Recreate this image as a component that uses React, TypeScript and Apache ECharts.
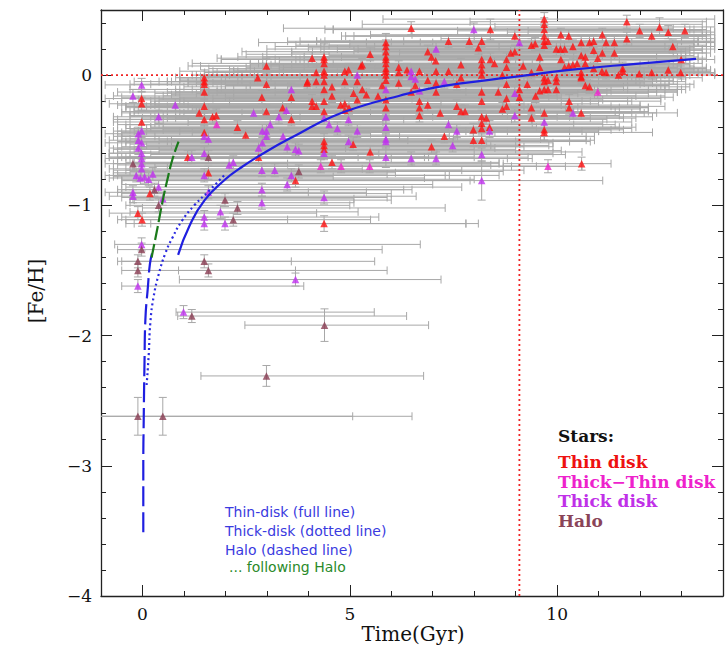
import React, { useEffect, useRef } from 'react';
import * as echarts from 'echarts';

// [age (Gyr), [Fe/H], age lower, age upper, [Fe/H] error]
type Star = [number, number, number, number, number];

const thinDisk: Star[] = [
  [-0.02, -0.18, -0.9, 6.5, 0.05], [-0.02, -0.22, -0.8, 7.2, 0.05], [-0.02, -0.36, -0.7, 5.8, 0.05],
  [-0.11, -1.06, -0.8, 4.2, 0.05], [-0.01, -1.11, -0.6, 3.5, 0.05], [0.18, -0.91, -0.5, 6.0, 0.05],
  [1.49, -0.02, 0.9, 7.5, 0.06], [1.49, -0.05, 0.6, 8.1, 0.05], [1.49, -0.07, -0.3, 6.9, 0.05],
  [1.49, -0.13, -0.6, 7.8, 0.05], [1.49, -0.24, -0.4, 9.2, 0.05], [1.49, -0.34, -0.7, 6.3, 0.05],
  [1.49, -0.44, -0.5, 8.5, 0.05], [1.37, -0.29, -0.2, 5.5, 0.05], [1.69, -0.32, 0.3, 7.0, 0.05],
  [1.78, -0.31, -0.3, 8.8, 0.05], [2.29, -0.4, 0.5, 9.5, 0.05], [2.49, -0.46, -0.6, 7.4, 0.05],
  [1.09, -0.63, -0.8, 5.2, 0.05], [1.59, -0.75, -0.7, 6.1, 0.05],
  [2.99, 0.07, 1.1, 8.2, 0.06], [2.78, -0.02, 0.8, 9.0, 0.05], [2.99, -0.07, 0.2, 8.6, 0.05],
  [2.88, -0.17, -0.5, 10.1, 0.05], [2.99, -0.28, -0.3, 9.4, 0.05], [3.38, -0.25, 0.4, 10.5, 0.05],
  [3.59, -0.17, 0.9, 9.8, 0.05], [3.59, -0.34, -0.6, 8.9, 0.05], [3.97, -0.06, 1.3, 10.8, 0.05],
  [2.8, -0.63, -0.8, 8.0, 0.05], [3.69, -0.81, -0.5, 7.9, 0.05],
  [4.09, 0.13, 1.8, 9.6, 0.05], [4.19, 0.02, 1.5, 10.2, 0.05], [3.98, -0.05, 0.7, 11.0, 0.05],
  [4.19, -0.05, -0.2, 9.9, 0.05], [4.09, -0.2, 0.2, 10.6, 0.05], [4.09, -0.24, -0.4, 8.7, 0.05],
  [4.19, -0.24, 0.6, 11.3, 0.05],
  [4.38, 0.14, 2.3, 10.4, 0.1], [4.38, 0.12, 1.9, 11.5, 0.06], [4.38, 0.09, 1.2, 9.4, 0.05],
  [4.38, 0.03, 0.9, 10.9, 0.05], [4.38, 0.0, 1.6, 12.1, 0.05], [4.38, -0.05, 0.4, 9.2, 0.05],
  [4.38, -0.11, -0.3, 10.7, 0.05], [4.38, -0.2, 0.3, 11.8, 0.05], [4.38, -0.28, -0.5, 9.7, 0.05],
  [4.38, -0.51, -0.6, 10.3, 0.06], [4.38, -0.54, 0.1, 8.4, 0.05], [4.38, -0.57, -0.7, 9.0, 0.05],
  [4.38, -1.14, -0.2, 7.8, 0.06], [4.57, -0.09, 1.0, 11.6, 0.05], [4.57, -0.16, 0.5, 10.0, 0.05],
  [4.57, -0.67, -0.4, 8.6, 0.05],
  [4.88, 0.03, 1.7, 11.2, 0.05], [4.97, 0.04, 2.1, 10.3, 0.05], [5.3, 0.08, 2.6, 12.0, 0.05],
  [5.49, 0.16, 2.5, 11.4, 0.05], [5.27, 0.07, 1.4, 10.8, 0.05], [5.18, -0.05, 1.1, 11.7, 0.05],
  [4.88, -0.05, 0.6, 9.8, 0.05], [5.09, -0.14, 0.3, 10.5, 0.05], [5.3, -0.11, 1.2, 12.2, 0.05],
  [5.18, -0.19, -0.1, 9.5, 0.05], [4.78, -0.23, 0.2, 10.1, 0.05], [4.88, -0.22, -0.5, 11.0, 0.05],
  [4.98, -0.25, 0.8, 9.3, 0.05], [4.88, -0.27, -0.2, 10.4, 0.05], [5.68, -0.16, 1.5, 11.9, 0.05],
  [5.78, -0.08, 2.0, 12.5, 0.05], [5.4, -0.15, 0.7, 10.9, 0.05], [5.08, -0.53, -0.3, 9.1, 0.05],
  [5.49, -0.59, -0.6, 10.6, 0.05],
  [5.87, 0.25, 2.8, 11.8, 0.07], [5.87, 0.22, 3.2, 12.6, 0.05], [5.87, 0.18, 2.4, 10.9, 0.05],
  [5.87, 0.14, 3.0, 12.9, 0.05], [5.87, 0.12, 1.9, 11.3, 0.05], [5.87, 0.09, 2.6, 12.2, 0.05],
  [5.87, 0.05, 1.6, 10.7, 0.05], [5.87, 0.03, 2.2, 11.9, 0.05], [5.87, 0.0, 1.3, 12.4, 0.05],
  [5.87, -0.04, 0.9, 10.6, 0.05], [5.87, -0.19, 0.4, 11.1, 0.05], [5.87, -0.25, -0.4, 10.2, 0.05],
  [6.48, 0.36, 3.4, 12.8, 0.05], [6.18, 0.06, 2.5, 12.0, 0.05], [6.18, 0.02, 1.8, 11.4, 0.05],
  [6.38, 0.04, 3.0, 12.7, 0.05], [6.68, 0.03, 2.7, 11.6, 0.05], [6.18, -0.06, 1.1, 12.3, 0.05],
  [6.48, -0.13, 0.6, 11.2, 0.05], [6.58, -0.08, 2.0, 12.6, 0.05], [6.88, -0.04, 1.5, 11.9, 0.05],
  [6.88, 0.18, 3.6, 13.1, 0.05], [6.97, 0.14, 2.9, 12.4, 0.05], [7.07, 0.11, 3.3, 13.0, 0.05],
  [7.08, 0.03, 2.3, 11.7, 0.05], [7.08, -0.06, 1.7, 12.1, 0.05], [7.08, -0.13, 0.8, 11.0, 0.05],
  [6.88, -0.23, 0.3, 12.0, 0.05], [6.68, -0.2, 1.0, 10.8, 0.05], [6.68, -0.25, -0.2, 11.5, 0.05],
  [6.68, -0.31, 0.5, 10.4, 0.05], [7.18, -0.29, 0.9, 11.8, 0.05], [7.28, -0.47, -0.5, 10.9, 0.05],
  [6.97, -0.55, -0.1, 9.9, 0.05],
  [7.38, 0.03, 2.6, 12.9, 0.05], [7.68, 0.08, 3.1, 13.2, 0.05], [7.68, -0.02, 2.0, 12.5, 0.05],
  [7.58, -0.07, 1.4, 12.0, 0.05], [7.38, 0.26, 3.8, 13.4, 0.05], [7.88, 0.26, 3.5, 13.0, 0.05],
  [8.1, 0.21, 4.0, 13.3, 0.05], [8.39, 0.35, 4.6, 13.6, 0.08], [8.39, 0.12, 3.2, 13.1, 0.05],
  [8.49, 0.09, 2.8, 12.8, 0.05], [8.78, 0.12, 3.9, 13.5, 0.05], [8.78, 0.06, 3.4, 12.9, 0.05],
  [8.68, 0.0, 2.4, 13.2, 0.05], [8.58, -0.13, 1.6, 12.4, 0.05], [8.68, -0.26, 1.2, 12.0, 0.05],
  [8.29, -0.33, 0.6, 11.6, 0.05], [8.37, -0.4, 0.2, 11.9, 0.05], [7.98, -0.42, -0.3, 11.3, 0.05],
  [7.98, -0.5, 0.4, 10.7, 0.05], [7.68, -0.28, 0.8, 12.2, 0.05], [7.78, -0.28, 1.3, 11.4, 0.05],
  [7.58, -0.24, 0.1, 12.6, 0.05],
  [8.18, 0.26, 4.2, 13.4, 0.05], [8.18, 0.12, 3.7, 13.0, 0.05], [8.18, 0.08, 2.9, 12.7, 0.05],
  [8.18, 0.04, 3.3, 13.3, 0.05], [8.18, 0.0, 2.1, 12.6, 0.05], [8.18, -0.13, 1.8, 12.9, 0.05],
  [8.18, -0.2, 0.9, 11.7, 0.05], [8.18, -0.32, 1.5, 12.3, 0.05], [8.18, -0.37, 0.3, 11.1, 0.05],
  [8.18, -0.41, -0.4, 11.8, 0.05], [8.18, -0.5, 0.7, 10.9, 0.05],
  [8.98, 0.3, 4.8, 13.5, 0.05], [8.98, 0.18, 4.1, 13.2, 0.05], [8.88, 0.17, 3.6, 12.8, 0.05],
  [9.38, 0.23, 4.5, 13.6, 0.05], [9.47, 0.24, 5.0, 13.3, 0.05], [9.78, 0.26, 4.4, 13.7, 0.05],
  [9.58, 0.14, 3.9, 13.1, 0.05], [9.98, 0.2, 4.7, 13.5, 0.05], [10.08, 0.2, 5.2, 13.8, 0.05],
  [10.18, 0.2, 4.3, 13.2, 0.05], [10.09, 0.12, 3.8, 13.4, 0.05], [10.09, 0.31, 5.5, 13.7, 0.05],
  [10.28, 0.3, 4.9, 13.6, 0.05],
  [9.69, 0.43, 5.8, 13.8, 0.05], [9.69, 0.39, 5.3, 13.5, 0.05], [9.69, 0.35, 4.6, 13.2, 0.05],
  [9.69, 0.3, 5.1, 13.7, 0.05], [9.69, 0.26, 4.2, 13.3, 0.05], [9.69, 0.23, 3.7, 12.9, 0.05],
  [9.69, -0.02, 2.8, 13.0, 0.05], [9.69, -0.05, 2.3, 12.7, 0.05], [9.69, -0.11, 1.9, 12.4, 0.05],
  [9.69, -0.29, 1.0, 12.1, 0.05], [9.69, -0.42, 0.5, 11.6, 0.08], [9.69, -0.44, 1.2, 12.3, 0.06],
  [8.78, -0.07, 2.6, 12.9, 0.05], [8.78, -0.18, 1.7, 12.5, 0.05], [8.78, -0.24, 1.1, 12.0, 0.05],
  [9.09, -0.17, 2.0, 12.8, 0.05], [9.09, -0.11, 2.5, 13.1, 0.05], [9.28, -0.07, 3.0, 13.3, 0.05],
  [9.48, -0.16, 2.2, 12.6, 0.05], [9.58, -0.12, 1.4, 12.9, 0.05], [9.38, -0.25, 1.6, 12.2, 0.05],
  [9.38, -0.33, 0.8, 11.9, 0.05], [9.38, 0.02, 3.4, 13.4, 0.05], [9.58, 0.06, 3.9, 13.6, 0.05],
  [9.18, 0.07, 2.9, 13.0, 0.05], [9.98, -0.02, 3.1, 13.5, 0.05], [9.98, -0.05, 2.4, 13.1, 0.05],
  [9.78, -0.04, 2.7, 12.8, 0.05], [9.78, -0.11, 1.8, 12.6, 0.05], [9.98, -0.11, 2.2, 13.0, 0.05],
  [10.38, 0.22, 5.6, 13.8, 0.05], [10.58, 0.25, 6.0, 13.7, 0.05], [10.78, 0.25, 5.4, 13.6, 0.05],
  [10.88, 0.26, 6.3, 13.8, 0.05], [11.18, 0.25, 6.7, 13.7, 0.05], [11.38, 0.25, 7.0, 13.8, 0.05],
  [11.09, 0.31, 6.5, 13.8, 0.05], [10.88, 0.19, 5.1, 13.5, 0.05], [11.09, 0.17, 5.8, 13.7, 0.05],
  [11.38, 0.17, 6.2, 13.6, 0.05], [10.68, 0.14, 4.8, 13.4, 0.05], [10.98, 0.13, 5.5, 13.6, 0.05],
  [10.58, 0.15, 4.5, 13.3, 0.05], [10.48, 0.09, 4.0, 13.2, 0.05], [10.68, 0.09, 4.6, 13.5, 0.05],
  [10.38, 0.08, 3.6, 13.0, 0.05], [10.28, 0.07, 4.2, 13.3, 0.05], [10.18, 0.06, 3.3, 12.9, 0.05],
  [10.58, -0.01, 3.8, 13.1, 0.05], [10.58, -0.02, 3.0, 12.8, 0.05], [10.78, -0.09, 3.5, 13.2, 0.05],
  [10.68, -0.08, 2.6, 12.7, 0.05], [10.29, -0.2, 2.1, 12.5, 0.05], [10.29, -0.25, 1.5, 12.2, 0.05],
  [10.58, -0.29, 2.9, 12.9, 0.05], [10.58, 0.02, 4.4, 13.4, 0.05], [10.88, 0.05, 4.9, 13.6, 0.05],
  [11.08, 0.03, 5.3, 13.7, 0.05], [11.18, 0.02, 4.7, 13.5, 0.05], [11.48, 0.0, 5.9, 13.8, 0.05],
  [11.58, 0.03, 6.4, 13.7, 0.05], [11.58, 0.05, 5.6, 13.6, 0.05], [11.98, 0.01, 6.8, 13.8, 0.05],
  [12.28, 0.02, 7.3, 13.8, 0.05], [12.68, 0.04, 7.8, 13.7, 0.05], [12.98, 0.02, 8.2, 13.8, 0.05],
  [11.68, 0.41, 7.9, 13.6, 0.05], [12.47, 0.37, 8.5, 13.8, 0.07], [13.08, 0.34, 9.3, 13.7, 0.05],
  [11.99, 0.34, 7.6, 13.5, 0.05], [12.68, 0.33, 8.8, 13.8, 0.05], [12.28, 0.3, 8.0, 13.6, 0.05],
  [11.68, 0.28, 7.2, 13.8, 0.05], [12.79, 0.22, 8.6, 13.7, 0.05], [12.99, 0.12, 9.0, 13.8, 0.08],
  [10.59, -0.68, 8.7, 11.3, 0.05],
];

const thickThinDisk: Star[] = [
  [4.3, -0.7, -0.2, 8.9, 0.05], [4.79, -0.7, 0.3, 9.5, 0.05], [5.48, -0.7, 0.6, 10.2, 0.05],
  [9.78, -0.7, 8.7, 10.6, 0.05], [1.79, -0.38, -0.4, 8.2, 0.05], [10.98, -0.13, 3.2, 12.9, 0.05],
];

const thickDisk: Star[] = [
  [-0.02, -0.075, -0.9, 3.2, 0.05], [-0.23, -0.16, -0.7, 2.2, 0.05], [-0.1, -0.45, -0.9, 5.5, 0.05],
  [-0.02, -0.43, -0.7, 7.8, 0.05], [-0.1, -0.5, -0.8, 6.4, 0.05], [-0.02, -0.52, -0.9, 8.3, 0.05],
  [-0.1, -0.56, -0.6, 4.9, 0.05], [-0.02, -0.6, -0.8, 7.1, 0.05], [-0.02, -0.64, -0.9, 6.0, 0.05],
  [-0.02, -0.68, -0.7, 8.6, 0.05], [-0.02, -0.72, -0.8, 5.3, 0.05], [-0.15, -0.77, -0.9, 7.4, 0.05],
  [-0.05, -0.79, -0.8, 6.8, 0.05], [0.05, -0.78, -0.7, 4.6, 0.05], [0.15, -0.8, -0.5, 8.0, 0.05],
  [0.25, -0.76, -0.6, 5.9, 0.05], [-0.23, -0.9, -0.9, 4.0, 0.05], [-0.23, -0.93, -0.8, 6.6, 0.05],
  [0.39, -0.86, -0.4, 7.7, 0.05], [0.49, -0.95, -0.3, 5.1, 0.05],
  [1.49, -0.47, -0.5, 6.2, 0.05], [1.59, -0.49, -0.3, 7.5, 0.05], [1.49, -0.6, -0.8, 5.7, 0.05],
  [0.79, -0.23, -0.6, 4.5, 0.05], [0.39, -0.32, -0.7, 3.8, 0.05], [1.19, -0.63, -0.6, 6.9, 0.05],
  [1.49, -0.77, -0.7, 7.3, 0.05], [1.59, -0.9, -0.6, 5.4, 0.05], [1.88, -1.05, -0.3, 5.2, 0.05],
  [1.99, -1.14, 0.2, 7.8, 0.05], [1.49, -1.09, -0.5, 5.7, 0.05], [1.49, -1.14, -0.4, 8.1, 0.05],
  [2.09, -0.69, -0.6, 8.4, 0.05], [2.19, -0.67, -0.2, 6.5, 0.05], [2.68, -0.29, -0.5, 9.1, 0.05],
  [3.29, -0.32, 0.2, 10.0, 0.05], [3.47, -0.27, -0.1, 9.6, 0.05], [2.89, -0.43, -0.6, 8.8, 0.05],
  [2.99, -0.43, 0.1, 10.3, 0.05], [3.08, -0.38, -0.3, 9.4, 0.05], [2.99, -0.47, -0.7, 7.6, 0.05],
  [2.89, -0.52, -0.4, 9.9, 0.05], [2.8, -0.56, -0.8, 8.5, 0.05], [3.39, -0.47, 0.3, 10.7, 0.05],
  [3.49, -0.55, -0.5, 9.2, 0.05], [3.69, -0.57, -0.2, 8.0, 0.05], [3.77, -0.58, 0.4, 10.1, 0.05],
  [3.59, -0.11, 0.8, 10.9, 0.05], [2.88, -0.73, -0.7, 9.2, 0.05], [3.19, -0.73, -0.4, 7.7, 0.05],
  [3.59, -0.77, -0.6, 8.6, 0.05], [3.49, -0.84, -0.5, 7.0, 0.05], [2.88, -0.88, -0.6, 6.5, 0.05],
  [2.88, -0.98, -0.3, 5.1, 0.05], [4.38, -0.94, -0.5, 5.9, 0.05], [4.38, -0.33, 0.0, 10.8, 0.05],
  [4.38, -0.6, -0.3, 9.9, 0.05], [4.97, -0.34, 0.5, 11.2, 0.05], [4.5, -0.38, -0.6, 10.4, 0.05],
  [4.7, -0.41, 0.1, 9.7, 0.05], [5.18, -0.43, -0.2, 11.0, 0.05], [4.97, -0.51, -0.4, 9.0, 0.05],
  [5.18, 0.0, 1.2, 11.4, 0.05], [5.87, -0.11, 0.9, 11.7, 0.05], [5.87, -0.32, -0.3, 10.3, 0.05],
  [5.87, -0.4, 0.2, 11.5, 0.05], [5.87, -0.49, -0.5, 9.6, 0.05], [5.87, -0.51, 0.6, 10.8, 0.05],
  [5.87, -0.63, -0.4, 9.3, 0.08], [6.48, 0.03, 2.2, 12.1, 0.05], [6.48, -0.01, 1.4, 11.8, 0.05],
  [6.58, -0.03, 0.9, 12.4, 0.05], [6.68, -0.12, 1.6, 11.3, 0.05], [7.08, 0.2, 3.0, 12.7, 0.05],
  [7.28, -0.05, 1.9, 12.3, 0.05], [7.38, -0.38, 0.4, 11.4, 0.05], [7.58, -0.43, -0.1, 10.6, 0.05],
  [7.48, -0.54, 0.7, 9.8, 0.05], [7.08, -0.64, -0.6, 9.4, 0.05], [6.48, -0.64, -0.3, 8.8, 0.05],
  [8.18, -0.61, 0.2, 10.2, 0.05], [8.18, -0.81, -0.5, 11.1, 0.15], [7.99, 0.35, 4.4, 13.3, 0.05],
  [8.37, -0.43, 0.9, 11.0, 0.05], [9.09, 0.25, 4.3, 13.4, 0.05], [8.98, -0.14, 1.3, 12.2, 0.05],
  [8.98, -0.31, 0.6, 11.5, 0.05], [10.38, -0.29, 2.4, 12.4, 0.05], [9.69, -0.36, 1.1, 11.8, 0.05],
  [0.99, -1.82, 0.81, 5.59, 0.05], [3.69, -1.57, 0.89, 7.2, 0.05], [-0.02, -1.3, -0.67, 6.7, 0.05],
  [-0.11, -1.62, -0.5, 3.89, 0.05],
];

const halo: Star[] = [
  [-0.23, -0.68, -0.9, 3.5, 0.05], [0.29, -0.88, -0.5, 6.3, 0.05], [0.39, -1.0, -0.4, 5.0, 0.05],
  [1.59, -0.63, -0.5, 6.8, 0.05], [1.99, -0.96, -0.2, 6.0, 0.05], [2.29, -1.02, 0.0, 7.3, 0.05],
  [2.19, -1.11, -0.4, 5.5, 0.05], [3.77, -0.74, -0.3, 8.7, 0.05], [-0.02, -1.34, -0.6, 5.78, 0.05],
  [-0.11, -1.43, -0.6, 5.6, 0.05], [-0.11, -1.5, -0.5, 5.9, 0.05], [1.49, -1.43, -0.5, 3.59, 0.05],
  [1.59, -1.5, 0.87, 3.69, 0.05], [1.19, -1.85, 0.85, 6.37, 0.05], [4.39, -1.92, 2.47, 6.9, 0.125],
  [2.99, -2.31, 1.41, 6.78, 0.08], [-0.11, -2.62, -1.2, 5.07, 0.145], [0.49, -2.62, -1.2, 6.5, 0.145],
];

// model curves [age, [Fe/H]]
const thinDiskModel: number[][] = [
  [0.86, -1.38], [1.13, -1.16], [1.5, -0.96], [2.0, -0.8], [2.33, -0.72], [2.97, -0.59],
  [3.77, -0.45], [4.57, -0.32], [5.37, -0.23], [6.18, -0.16], [6.98, -0.1], [7.78, -0.06],
  [8.8, -0.02], [10.3, 0.04], [11.9, 0.087], [13.35, 0.125],
];
const thickDiskModel: number[][] = [
  [0.1, -2.38], [0.15, -2.15], [0.19, -1.9], [0.27, -1.7], [0.4, -1.52], [0.55, -1.37],
  [0.72, -1.25], [0.95, -1.12], [1.25, -1.0], [1.6, -0.89], [1.97, -0.77],
];
const haloModel: number[][] = [
  [0.02, -3.51], [0.02, -3.0], [0.03, -2.65], [0.05, -2.19], [0.07, -1.88], [0.13, -1.63],
  [0.18, -1.45], [0.23, -1.37],
];
const followingHaloModel: number[][] = [
  [0.22, -1.4], [0.37, -1.16], [0.49, -0.96], [0.61, -0.79], [0.72, -0.65], [0.87, -0.51],
];

const xMajorTicks = [0, 5, 10];
const solarFeH = 0;
const sunAge = 9.09;

const SERIF = "'DejaVu Serif', 'Liberation Serif', serif";
const SANS = "'DejaVu Sans', 'Liberation Sans', Arial, sans-serif";

const minus = (v: number) => (v < 0 ? '\u2212' + Math.abs(v) : String(v));

function buildOption(): any {
  const allStars = [...thinDisk, ...thickThinDisk, ...thickDisk, ...halo];
  const tickColor = '#222';
  const baseAxis = {
    type: 'value',
    splitLine: { show: false },
    axisLine: { show: true, onZero: false, lineStyle: { color: tickColor, width: 1.3 } },
  };
  const xAxis = [
    {
      ...baseAxis, min: -1, max: 14, interval: 1, position: 'bottom',
      axisTick: { inside: true, length: 5, lineStyle: { color: tickColor } },
      axisLabel: {
        formatter: (v: number) => (xMajorTicks.includes(Math.round(v)) && Math.abs(v - Math.round(v)) < 1e-6 ? minus(Math.round(v)) : ''),
        margin: 9, fontFamily: SERIF, fontSize: 17, color: '#111',
      },
    },
    {
      ...baseAxis, min: -1, max: 14, position: 'bottom', axisLine: { show: false, onZero: false },
      axisTick: { inside: true, length: 11, customValues: xMajorTicks, lineStyle: { color: tickColor } },
      axisLabel: { show: false },
    },
    {
      ...baseAxis, min: -1, max: 14, interval: 1, position: 'top',
      axisTick: { inside: true, length: 5, lineStyle: { color: tickColor } },
      axisLabel: { show: false },
    },
    {
      ...baseAxis, min: -1, max: 14, position: 'top', axisLine: { show: false, onZero: false },
      axisTick: { inside: true, length: 11, customValues: xMajorTicks, lineStyle: { color: tickColor } },
      axisLabel: { show: false },
    },
  ];
  const yAxis = [
    {
      ...baseAxis, min: -4, max: 0.5, interval: 0.2, position: 'left',
      axisTick: { inside: true, length: 5, lineStyle: { color: tickColor } },
      axisLabel: {
        formatter: (v: number) => (Math.abs(v - Math.round(v)) < 1e-6 ? minus(Math.round(v)) : ''),
        margin: 9, fontFamily: SERIF, fontSize: 17, color: '#111',
      },
    },
    {
      ...baseAxis, min: -4, max: 0.5, interval: 1, position: 'left', axisLine: { show: false, onZero: false },
      axisTick: { inside: true, length: 11, lineStyle: { color: tickColor } },
      axisLabel: { show: false },
    },
    {
      ...baseAxis, min: -4, max: 0.5, interval: 0.2, position: 'right',
      axisTick: { inside: true, length: 5, lineStyle: { color: tickColor } },
      axisLabel: { show: false },
    },
    {
      ...baseAxis, min: -4, max: 0.5, interval: 1, position: 'right', axisLine: { show: false, onZero: false },
      axisTick: { inside: true, length: 11, lineStyle: { color: tickColor } },
      axisLabel: { show: false },
    },
  ];

  const errStyle = { stroke: '#a8a8a8', lineWidth: 1 };
  const errorBars = {
    type: 'custom',
    clip: true,
    z: 1,
    silent: true,
    encode: { x: 0, y: 1 },
    data: allStars,
    renderItem: (_p: any, api: any) => {
      const x = api.value(0), y = api.value(1), lo = api.value(2), hi = api.value(3), e = api.value(4);
      const c = api.coord([x, y]);
      const l = api.coord([lo, y]);
      const h = api.coord([hi, y]);
      const t = api.coord([x, y + e]);
      const b = api.coord([x, y - e]);
      return {
        type: 'group',
        children: [
          { type: 'line', shape: { x1: l[0], y1: c[1], x2: h[0], y2: c[1] }, style: errStyle },
          { type: 'line', shape: { x1: l[0], y1: c[1] - 4, x2: l[0], y2: c[1] + 4 }, style: errStyle },
          { type: 'line', shape: { x1: h[0], y1: c[1] - 4, x2: h[0], y2: c[1] + 4 }, style: errStyle },
          { type: 'line', shape: { x1: c[0], y1: t[1], x2: c[0], y2: b[1] }, style: errStyle },
          { type: 'line', shape: { x1: c[0] - 4, y1: t[1], x2: c[0] + 4, y2: t[1] }, style: errStyle },
          { type: 'line', shape: { x1: c[0] - 4, y1: b[1], x2: c[0] + 4, y2: b[1] }, style: errStyle },
        ],
      };
    },
  };

  const scatter = (name: string, data: Star[], color: string) => ({
    name, type: 'scatter', symbol: 'triangle', symbolSize: 7.5, z: 3,
    data: data.map((s) => [s[0], s[1]]),
    itemStyle: { color },
  });

  const curve = (data: number[][], color: string, type: any, width = 2) => ({
    type: 'line', data, smooth: true, showSymbol: false, symbol: 'none', z: 5,
    lineStyle: { color, width, type },
  });

  const refLine = (data: number[][]) => ({
    type: 'line', data, showSymbol: false, symbol: 'none', z: 2,
    lineStyle: { color: '#f02525', width: 1.8, type: [2, 3] },
  });

  const text = (x: number, y: number, t: string, color: string, font: string, size: number, extra: any = {}) => ({
    type: 'text', x, y, z: 100,
    style: { text: t, fill: color, fontFamily: font, fontSize: size, textVerticalAlign: 'middle', ...extra },
  });

  const legendFont = { fontWeight: 'bold' };

  return {
    animation: false,
    backgroundColor: '#ffffff',
    grid: { left: 101, right: 3, top: 10, bottom: 56, containLabel: false },
    xAxis,
    yAxis,
    series: [
      errorBars,
      refLine([[-1, solarFeH], [14, solarFeH]]),
      refLine([[sunAge, -4], [sunAge, 0.5]]),
      scatter('Thin disk', thinDisk, '#ff1010'),
      scatter('Thick-Thin disk', thickThinDisk, '#f020d0'),
      scatter('Thick disk', thickDisk, '#c030f0'),
      scatter('Halo', halo, '#8a3c52'),
      curve(thinDiskModel, '#1f1fe0', 'solid', 2.2),
      curve(thickDiskModel, '#2a2ae0', [2, 3], 2.2),
      curve(haloModel, '#1f1fe0', [20, 6], 2.2),
      curve(followingHaloModel, '#1a7a1a', [14, 4], 2.2),
    ],
    graphic: [
      text(413, 634, 'Time(Gyr)', '#111', SERIF, 20, { textAlign: 'center' }),
      { ...text(0, 0, '[Fe/H]', '#111', SERIF, 20, { textAlign: 'center' }), x: 36, y: 291, rotation: Math.PI / 2 },
      text(558, 436, 'Stars:', '#111', SERIF, 17, legendFont),
      text(558, 462, 'Thin disk', '#ee1111', SERIF, 17, legendFont),
      text(558, 482, 'Thick\u2212Thin disk', '#ee22cc', SERIF, 17, legendFont),
      text(558, 501, 'Thick disk', '#c030e8', SERIF, 17, legendFont),
      text(558, 521, 'Halo', '#8a4458', SERIF, 17, legendFont),
      text(225, 512, 'Thin-disk (full line)', '#3a3ae0', SANS, 14),
      text(225, 531, 'Thick-disk (dotted line)', '#3a3ae0', SANS, 14),
      text(225, 550, 'Halo (dashed line)', '#3a3ae0', SANS, 14),
      text(229, 567, '... following Halo', '#2a8a2a', SANS, 14),
    ],
  };
}

export default function App() {
  const ref = useRef<HTMLDivElement>(null);
  useEffect(() => {
    if (!ref.current) return;
    const chart = echarts.init(ref.current, null, { renderer: 'svg' });
    chart.setOption(buildOption());
    return () => chart.dispose();
  }, []);
  return (
    <div
      ref={ref}
      style={{ position: 'fixed', left: 0, top: 0, width: 726, height: 652, background: '#fff' }}
    />
  );
}
